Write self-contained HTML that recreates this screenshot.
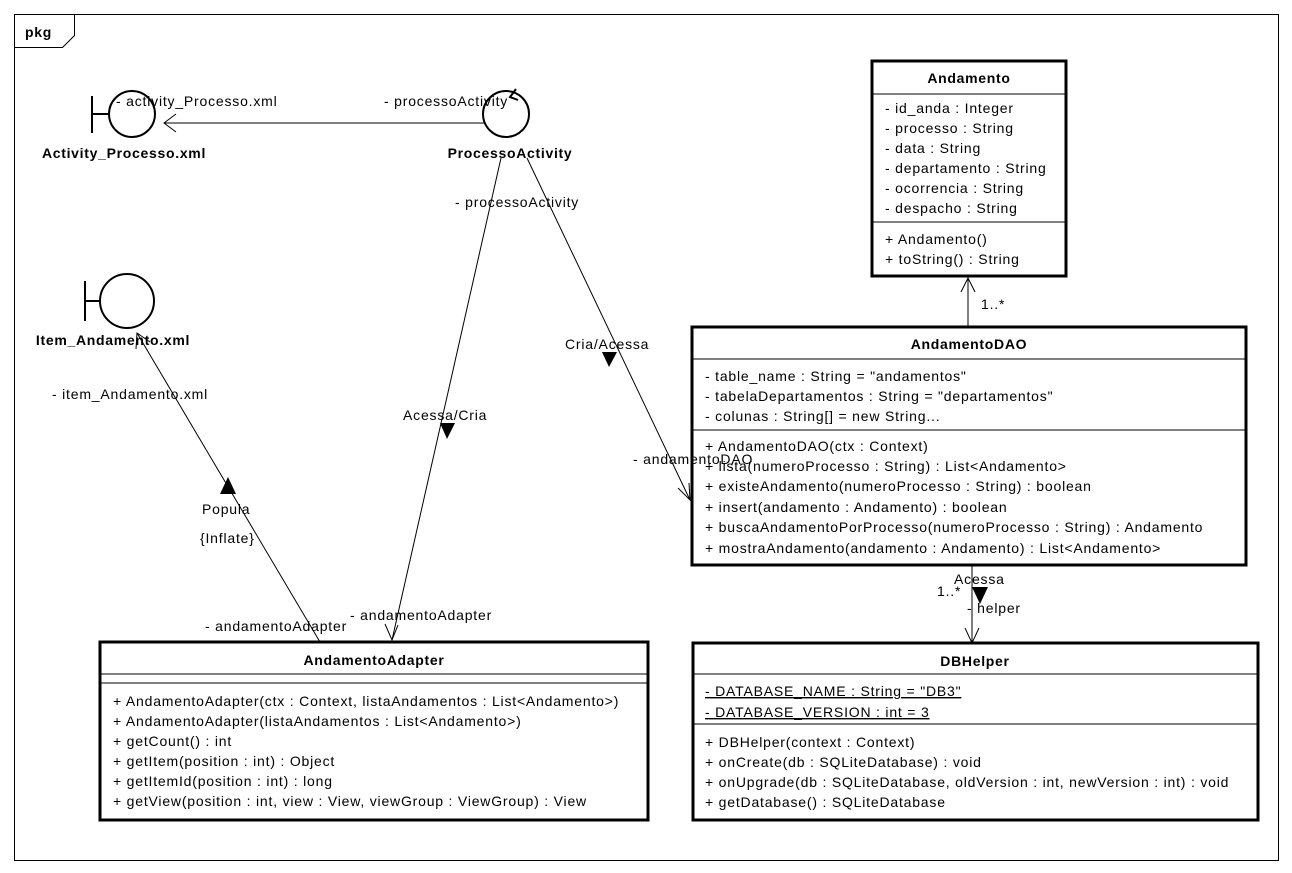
<!DOCTYPE html>
<html><head><meta charset="utf-8"><style>
html,body{margin:0;padding:0;background:#fff;}
svg{display:block;}
text{font-family:"Liberation Sans",Arial,sans-serif;font-size:14px;fill:#000;letter-spacing:0.8px;}
.b{font-weight:bold;letter-spacing:0.7px;}
</style></head><body>
<svg width="1292" height="873" viewBox="0 0 1292 873" xmlns="http://www.w3.org/2000/svg">
<rect x="0" y="0" width="1292" height="873" fill="#fff"/>
<rect x="14.5" y="14.5" width="1264" height="846" fill="none" stroke="#000" stroke-width="1"/>
<path d="M14.5 47.5 H62.5 L74.5 35.5 V14.5" fill="none" stroke="#000"/>
<text x="25" y="37" class="b">pkg</text>

<line x1="92" y1="96" x2="92" y2="133" stroke="#000" stroke-width="2"/>
<line x1="92" y1="114" x2="109" y2="114" stroke="#000" stroke-width="2"/>
<circle cx="132" cy="114" r="23" fill="none" stroke="#000" stroke-width="2"/>
<text x="124" y="158" class="b" text-anchor="middle">Activity_Processo.xml</text>

<circle cx="506" cy="114" r="23" fill="none" stroke="#000" stroke-width="2"/>
<path d="M516 89 L510 97 L518 100" fill="none" stroke="#000" stroke-width="2"/>
<text x="510" y="158" class="b" text-anchor="middle">ProcessoActivity</text>

<line x1="85" y1="281" x2="85" y2="321" stroke="#000" stroke-width="2"/>
<line x1="85" y1="301" x2="100" y2="301" stroke="#000" stroke-width="2"/>
<circle cx="127" cy="301" r="27" fill="none" stroke="#000" stroke-width="2"/>
<text x="113" y="345" class="b" text-anchor="middle">Item_Andamento.xml</text>

<line x1="484" y1="123" x2="164" y2="123" stroke="#000"/>
<path d="M176 114 L164 123 L176 132" fill="none" stroke="#000"/>

<line x1="501" y1="158" x2="392" y2="640" stroke="#000"/>
<path d="M385 624 L392 640 L398 625" fill="none" stroke="#000"/>
<path d="M440 423 L455 423 L447 439 Z" fill="#000"/>

<line x1="527" y1="158" x2="690" y2="500" stroke="#000"/>
<path d="M678 488 L690 500 L689 483" fill="none" stroke="#000"/>
<path d="M602 352 L617 352 L609 367 Z" fill="#000"/>

<line x1="320" y1="642" x2="137" y2="333" stroke="#000"/>
<path d="M136 349 L137 333 L150 342" fill="none" stroke="#000"/>
<path d="M220 494 L236 494 L228 477 Z" fill="#000"/>

<line x1="968" y1="327" x2="968" y2="278" stroke="#000"/>
<path d="M961 292 L968 278 L975 292" fill="none" stroke="#000"/>

<line x1="972" y1="565" x2="972" y2="643" stroke="#000"/>
<path d="M965 628 L972 643 L979 628" fill="none" stroke="#000"/>
<path d="M972 587 L988 587 L980 604 Z" fill="#000"/>

<!-- Andamento -->
<rect x="872" y="61" width="194" height="215" fill="#fff" stroke="#000" stroke-width="3"/>
<text x="969" y="83" class="b" text-anchor="middle">Andamento</text>
<line x1="872" y1="94" x2="1066" y2="94" stroke="#000"/>
<text x="885" y="113">- id_anda : Integer</text>
<text x="885" y="133">- processo : String</text>
<text x="885" y="153">- data : String</text>
<text x="885" y="173">- departamento : String</text>
<text x="885" y="193">- ocorrencia : String</text>
<text x="885" y="213">- despacho : String</text>
<line x1="872" y1="222" x2="1066" y2="222" stroke="#000"/>
<text x="885" y="244">+ Andamento()</text>
<text x="885" y="264">+ toString() : String</text>

<!-- AndamentoDAO -->
<rect x="692" y="327" width="554" height="238" fill="#fff" stroke="#000" stroke-width="3"/>
<text x="969" y="349" class="b" text-anchor="middle">AndamentoDAO</text>
<line x1="692" y1="359" x2="1246" y2="359" stroke="#000"/>
<text x="705" y="381">- table_name : String = "andamentos"</text>
<text x="705" y="401">- tabelaDepartamentos : String = "departamentos"</text>
<text x="705" y="421">- colunas : String[] = new String...</text>
<line x1="692" y1="430" x2="1246" y2="430" stroke="#000"/>
<text x="705" y="451">+ AndamentoDAO(ctx : Context)</text>
<text x="705" y="471">+ lista(numeroProcesso : String) : List&lt;Andamento&gt;</text>
<text x="705" y="491">+ existeAndamento(numeroProcesso : String) : boolean</text>
<text x="705" y="512">+ insert(andamento : Andamento) : boolean</text>
<text x="705" y="532">+ buscaAndamentoPorProcesso(numeroProcesso : String) : Andamento</text>
<text x="705" y="553">+ mostraAndamento(andamento : Andamento) : List&lt;Andamento&gt;</text>

<!-- DBHelper -->
<rect x="693" y="643" width="565" height="177" fill="#fff" stroke="#000" stroke-width="3"/>
<text x="975" y="666" class="b" text-anchor="middle">DBHelper</text>
<line x1="693" y1="674" x2="1258" y2="674" stroke="#000"/>
<text x="705" y="696" text-decoration="underline">- DATABASE_NAME : String = "DB3"</text>
<text x="705" y="717" text-decoration="underline">- DATABASE_VERSION : int = 3</text>
<line x1="693" y1="724" x2="1258" y2="724" stroke="#000"/>
<text x="705" y="747">+ DBHelper(context : Context)</text>
<text x="705" y="767">+ onCreate(db : SQLiteDatabase) : void</text>
<text x="705" y="787">+ onUpgrade(db : SQLiteDatabase, oldVersion : int, newVersion : int) : void</text>
<text x="705" y="807">+ getDatabase() : SQLiteDatabase</text>

<!-- AndamentoAdapter -->
<rect x="100" y="642" width="548" height="178" fill="#fff" stroke="#000" stroke-width="3"/>
<text x="374" y="665" class="b" text-anchor="middle">AndamentoAdapter</text>
<line x1="100" y1="674" x2="648" y2="674" stroke="#000"/>
<line x1="100" y1="683" x2="648" y2="683" stroke="#000"/>
<text x="113" y="706">+ AndamentoAdapter(ctx : Context, listaAndamentos : List&lt;Andamento&gt;)</text>
<text x="113" y="726">+ AndamentoAdapter(listaAndamentos : List&lt;Andamento&gt;)</text>
<text x="113" y="746">+ getCount() : int</text>
<text x="113" y="766">+ getItem(position : int) : Object</text>
<text x="113" y="786">+ getItemId(position : int) : long</text>
<text x="113" y="806">+ getView(position : int, view : View, viewGroup : ViewGroup) : View</text>

<!-- connector labels (on top) -->
<text x="116" y="106">- activity_Processo.xml</text>
<text x="384" y="106">- processoActivity</text>
<text x="455" y="207">- processoActivity</text>
<text x="403" y="420">Acessa/Cria</text>
<text x="350" y="620">- andamentoAdapter</text>
<text x="565" y="349">Cria/Acessa</text>
<text x="633" y="464">- andamentoDAO</text>
<text x="52" y="399">- item_Andamento.xml</text>
<text x="202" y="514">Popula</text>
<text x="200" y="543">{Inflate}</text>
<text x="205" y="631">- andamentoAdapter</text>
<text x="981" y="309">1..*</text>
<text x="937" y="596">1..*</text>
<text x="954" y="584">Acessa</text>
<text x="967" y="613">- helper</text>
</svg>
</body></html>
